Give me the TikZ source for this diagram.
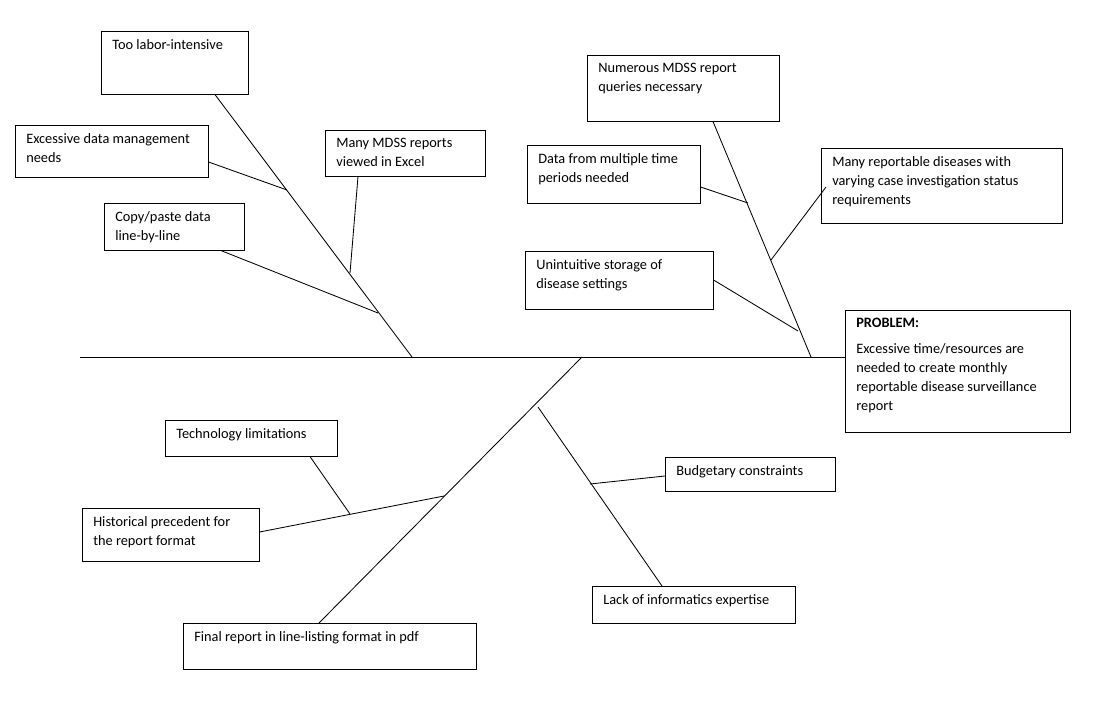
\documentclass[tikz,border=0pt]{standalone}
\usepackage{fontspec}
\setmainfont{Carlito}
\newlength\pxu
\setlength\pxu{0.025cm}
% box text: width, height (in px), text
\newcommand\bxtext[3]{\parbox[t][#2\pxu][t]{#1\pxu}{\raggedright #3}}
\tikzset{
  cause/.style={draw=black, anchor=north west, inner xsep=0.275cm, inner ysep=0.2cm, font=\fontsize{10.2}{13.5}\selectfont},
  bone/.style={black, line width=0.6pt}
}
\begin{document}
\begin{tikzpicture}[x=0.025cm, y=-0.025cm]
    \useasboundingbox (0,0) rectangle (1097,715);
    % cause boxes
    \node[cause] (labor) at (101,31) {\bxtext{125}{47}{Too labor-intensive}};
    \node[cause] (datamgmt) at (15,125) {\bxtext{171}{36}{Excessive data management needs}};
    \node[cause] (excel) at (325,130) {\bxtext{138}{30}{Many MDSS reports viewed in Excel}};
    \node[cause] (copy) at (104,203) {\bxtext{118}{31}{Copy/paste data line-by-line}};
    \node[cause] (queries) at (587,55) {\bxtext{170}{50}{Numerous MDSS report queries necessary}};
    \node[cause] (periods) at (527,145) {\bxtext{151}{42}{Data from multiple time periods needed}};
    \node[cause] (diseases) at (821,148) {\bxtext{219}{59}{Many reportable diseases with varying case investigation status requirements}};
    \node[cause] (storage) at (525,251) {\bxtext{166}{42}{Unintuitive storage of disease settings}};
    \node[cause] (problem) at (845,310) {\bxtext{203}{106}{\textbf{PROBLEM:}\\[5pt] Excessive time/resources are needed to create monthly reportable disease surveillance report}};
    \node[cause] (tech) at (165,420) {\bxtext{150}{20}{Technology limitations}};
    \node[cause] (precedent) at (82,508) {\bxtext{155}{37}{Historical precedent for the report format}};
    \node[cause] (pdf) at (183,623) {\bxtext{271}{30}{Final report in line-listing format in pdf}};
    \node[cause] (budget) at (665,457) {\bxtext{148}{18}{Budgetary constraints}};
    \node[cause] (expertise) at (592,586) {\bxtext{181}{21}{Lack of informatics expertise}};
    % joints on the bones
    \coordinate (tail) at (80,357);
    \coordinate (jA) at (412,357);
    \coordinate (jB) at (811,357);
    \coordinate (jC) at (582,357);
    \coordinate (a1) at (287,190);
    \coordinate (a2) at (350,273);
    \coordinate (a3) at (378,313);
    \coordinate (b1) at (748,203);
    \coordinate (b2) at (771,260);
    \coordinate (b3) at (798,331);
    \coordinate (c1) at (444,496);
    \coordinate (c2) at (350,514);
    \coordinate (d0) at (538,407);
    \coordinate (d1) at (590,484);
    % spine and bones
    \draw[bone] (tail) -- (problem.west |- tail);
    \draw[bone] (labor.south -| 215,0) -- (jA);
    \draw[bone] (datamgmt.east |- 0,162) -- (a1);
    \draw[bone] (excel.south -| 358,0) -- (a2);
    \draw[bone] (copy.south -| 221,0) -- (a3);
    \draw[bone] (queries.south -| 713,0) -- (jB);
    \draw[bone] (periods.east |- 0,187) -- (b1);
    \draw[bone] (diseases.west |- 0,187) ++(5,0) -- (b2);
    \draw[bone] (storage.east |- 0,280) -- (b3);
    \draw[bone] (jC) -- (pdf.north -| 319,0);
    \draw[bone] (precedent.east |- 0,532) -- (c1);
    \draw[bone] (tech.south -| 310,0) -- (c2);
    \draw[bone] (d0) -- (expertise.north -| 662,0);
    \draw[bone] (budget.west |- 0,476) -- (d1);
\end{tikzpicture}
\end{document}
